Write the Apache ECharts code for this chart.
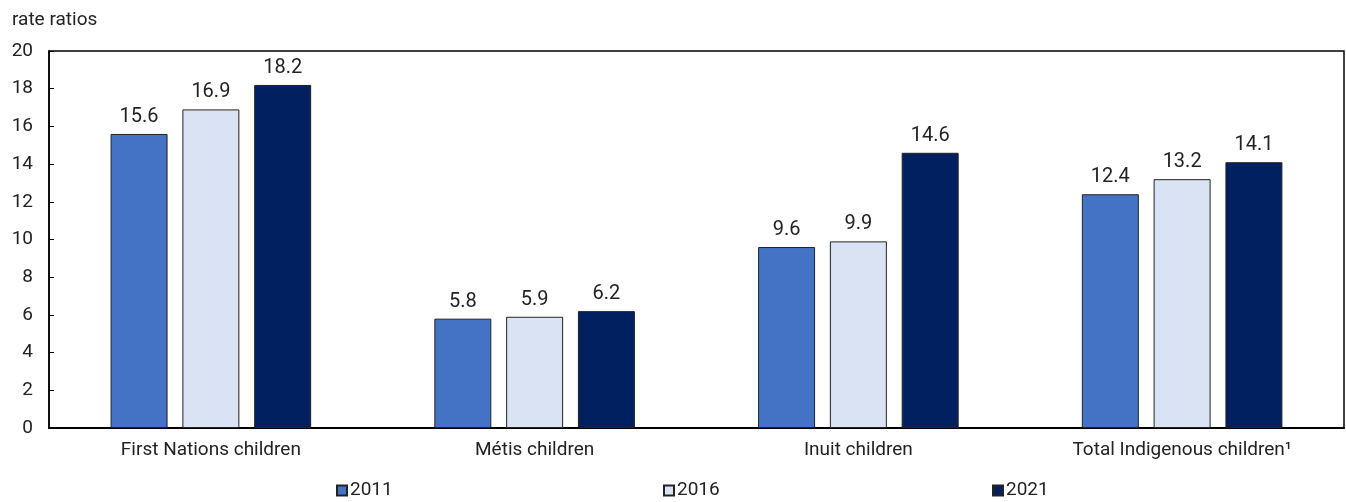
<!DOCTYPE html>
<html>
<head>
<meta charset="utf-8">
<script src="https://cdn.jsdelivr.net/npm/echarts@6/dist/echarts.min.js"></script>
<style>
  html, body { margin: 0; padding: 0; background: #fff; }
  #chart { width: 1346px; height: 502px; }
</style>
</head>
<body>
<div id="chart"></div>
<script>
// Rate ratios of children in foster care, by group and census year
const categories = ['First Nations children', 'Métis children', 'Inuit children', 'Total Indigenous children\u00B9'];
const years = ['2011', '2016', '2021'];
const values2011 = [15.6, 5.8, 9.6, 12.4];
const values2016 = [16.9, 5.9, 9.9, 13.2];
const values2021 = [18.2, 6.2, 14.6, 14.1];
const yTicks = [0, 2, 4, 6, 8, 10, 12, 14, 16, 18, 20];

const colors = ['#4472C4', '#DAE3F3', '#002060'];
const seriesValues = [values2011, values2016, values2021];
const FONT = 'Roboto, "Liberation Sans", sans-serif';
const TEXT = '#222';

// one legend entry per year, spread across the bottom
const legendLefts = [336, 663, 992];

const chart = echarts.init(document.getElementById('chart'), null, { renderer: 'canvas' });

chart.setOption({
  animation: false,
  textStyle: { fontFamily: FONT },
  title: {
    text: 'rate ratios',
    left: 7, top: 6,
    textStyle: { fontFamily: FONT, fontSize: 19, fontWeight: 'normal', color: TEXT }
  },
  legend: years.map((y, i) => ({
    data: [y],
    bottom: 2,
    left: legendLefts[i],
    padding: 0,
    itemWidth: 10, itemHeight: 10,
    itemGap: 0,
    icon: 'rect',
    textStyle: { fontFamily: FONT, fontSize: 19, color: TEXT, padding: [0, 0, 0, -2] }
  })),
  grid: {
    left: 49, right: 2, top: 51, bottom: 74,
    show: true, borderColor: '#000', borderWidth: 1.5, backgroundColor: 'transparent'
  },
  xAxis: {
    type: 'category',
    data: categories,
    axisLine: { lineStyle: { color: '#000', width: 2 } },
    axisTick: { show: false },
    axisLabel: { fontFamily: FONT, fontSize: 19, color: TEXT, margin: 13 }
  },
  yAxis: {
    type: 'value',
    min: yTicks[0], max: yTicks[yTicks.length - 1], interval: 2,
    axisLine: { show: true, lineStyle: { color: '#000', width: 1.5 } },
    axisTick: { show: true, inside: true, length: 5, lineStyle: { color: '#000' } },
    splitLine: { show: false },
    axisLabel: { fontFamily: FONT, fontSize: 19, color: TEXT, margin: 16, align: 'right' }
  },
  series: years.map((y, i) => ({
    name: y,
    type: 'bar',
    data: seriesValues[i],
    barWidth: '17.6%',
    barGap: '26%',
    itemStyle: { color: colors[i], borderColor: '#222', borderWidth: 1 },
    label: {
      show: true, position: 'top', distance: 7,
      fontFamily: FONT, fontSize: 20, color: TEXT,
      formatter: p => p.value.toFixed(1)
    }
  }))
});
</script>
</body>
</html>
